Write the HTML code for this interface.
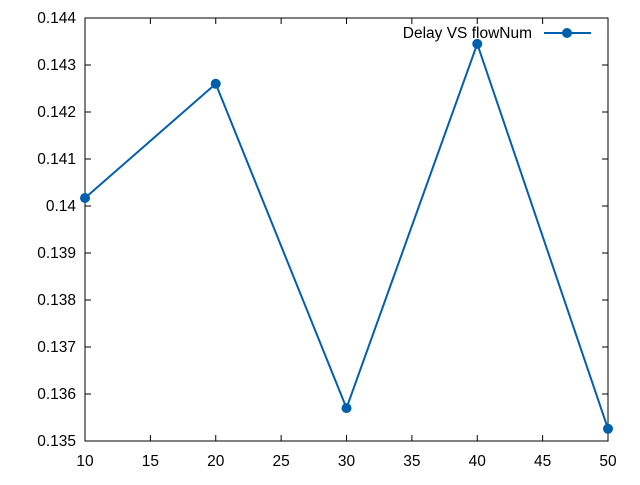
<!DOCTYPE html>
<html><head><meta charset="utf-8"><style>
html,body{margin:0;padding:0;background:#fff;}
svg text{font-family:"Liberation Sans",sans-serif;font-size:15.5px;fill:#000;}
</style></head><body>
<svg id="chart" width="640" height="480" xmlns="http://www.w3.org/2000/svg">
<g id="axes"></g><g id="series"></g>
</svg>
<script>
const categories=[10,20,30,40,50];
const delayValues=[0.14017,0.14260,0.13570,0.14345,0.13526];
const xTicks=[10,15,20,25,30,35,40,45,50];
const yTicks=[0.135,0.136,0.137,0.138,0.139,0.14,0.141,0.142,0.143,0.144];
const yTickLabels=["0.135","0.136","0.137","0.138","0.139","0.14","0.141","0.142","0.143","0.144"];
const L=85,R=608,T=18,B=441;
const sx=v=>L+(v-10)/(50-10)*(R-L);
const sy=v=>B-(v-0.135)/(0.144-0.135)*(B-T);
const NS="http://www.w3.org/2000/svg";
function mk(tag,attrs,parent){const e=document.createElementNS(NS,tag);for(const k in attrs)e.setAttribute(k,attrs[k]);parent.appendChild(e);return e;}
const ax=document.getElementById('axes');
const frame=mk('rect',{x:L,y:T,width:R-L,height:B-T,fill:'none',stroke:'#000','stroke-width':1},ax);


xTicks.forEach(v=>{const x=sx(v);
 mk('line',{x1:x,y1:B,x2:x,y2:B-6,stroke:'#000'},ax);
 mk('line',{x1:x,y1:T,x2:x,y2:T+6,stroke:'#000'},ax);
 const t=mk('text',{x:x,y:B+25,'text-anchor':'middle'},ax);t.textContent=v;
 
 
});
yTicks.forEach((v,i)=>{const y=sy(v);
 mk('line',{x1:L,y1:y,x2:L+6,y2:y,stroke:'#000'},ax);
 mk('line',{x1:R,y1:y,x2:R-6,y2:y,stroke:'#000'},ax);
 const t=mk('text',{x:L-9,y:y+5,'text-anchor':'end'},ax);t.textContent=yTickLabels[i];
 
 
});
const s=document.getElementById('series');
const pts=categories.map((c,i)=>sx(c)+','+sy(delayValues[i])).join(' ');
const pl=mk('polyline',{points:pts,fill:'none',stroke:'#0060ad','stroke-width':2},s);


categories.forEach((c,i)=>{const p=mk('circle',{cx:sx(c),cy:sy(delayValues[i]),r:5,fill:'#0060ad'},s);
 
 
});
const lg=mk('g',{},s);


const lt=mk('text',{x:532,y:38,'text-anchor':'end'},lg);lt.textContent='Delay VS flowNum';
mk('line',{x1:544,y1:33,x2:591,y2:33,stroke:'#0060ad','stroke-width':2},lg);
mk('circle',{cx:567,cy:33,r:5,fill:'#0060ad'},lg);
</script>
</body></html>
